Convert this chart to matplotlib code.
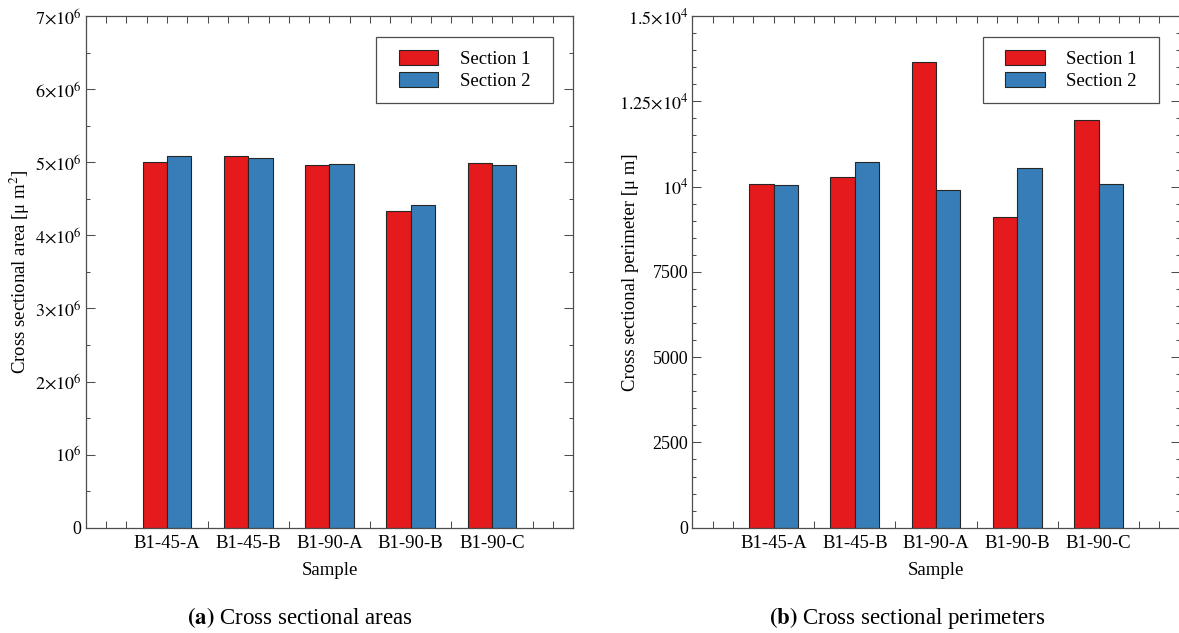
import matplotlib
matplotlib.use("Agg")
import matplotlib.pyplot as plt
import numpy as np
from matplotlib.patches import Rectangle
from matplotlib.ticker import MultipleLocator

# ---- data ----
samples = ["B1-45-A", "B1-45-B", "B1-90-A", "B1-90-B", "B1-90-C"]
series_names = ["Section 1", "Section 2"]

area_section1 = [5.005e6, 5.085e6, 4.955e6, 4.335e6, 4.990e6]
area_section2 = [5.078e6, 5.064e6, 4.973e6, 4.416e6, 4.963e6]

perim_section1 = [10080, 10290, 13660, 9120, 11940]
perim_section2 = [10050, 10730, 9910, 10540, 10080]

area_ticks = [0, 1e6, 2e6, 3e6, 4e6, 5e6, 6e6, 7e6]
area_tick_labels = ["0", r"$10^{6}$", r"$2{\times}10^{6}$", r"$3{\times}10^{6}$",
                    r"$4{\times}10^{6}$", r"$5{\times}10^{6}$", r"$6{\times}10^{6}$",
                    r"$7{\times}10^{6}$"]
perim_ticks = [0, 2500, 5000, 7500, 10000, 12500, 15000]
perim_tick_labels = ["0", "2500", "5000", "7500", r"$10^{4}$",
                     r"$1.25{\times}10^{4}$", r"$1.5{\times}10^{4}$"]

# ---- style ----
plt.rcParams["font.family"] = ["Liberation Serif", "DejaVu Serif"]
plt.rcParams["mathtext.fontset"] = "stix"

RED = "#E41A1C"
BLUE = "#377EB8"
EDGE = "#262626"
AXCOL = "#4d4d4d"
FS = 13.5

W, H = 1179, 633
fig = plt.figure(figsize=(W / 100, H / 100), dpi=100)
ax_top, ax_bot = 16.0, 527.7
ax_h = (ax_bot - ax_top) / H
ax_w = 487.5 / W
ax1 = fig.add_axes([85.7 / W, 1 - ax_bot / H, ax_w, ax_h])
ax2 = fig.add_axes([692.3 / W, 1 - ax_bot / H, ax_w, ax_h])


def draw_panel(ax, s1, s2, yticks, ylabels, yminor, ylabel):
    x = np.arange(1, len(samples) + 1)
    w = 0.3
    ax.bar(x - w / 2, s1, w, color=RED, edgecolor=EDGE, linewidth=0.8,
           label=series_names[0])
    ax.bar(x + w / 2, s2, w, color=BLUE, edgecolor=EDGE, linewidth=0.8,
           label=series_names[1])
    ax.set_xlim(0, len(samples) + 1)
    ax.set_ylim(yticks[0], yticks[-1])
    ax.set_xticks(x)
    ax.set_xticklabels(samples, fontsize=FS)
    ax.xaxis.set_minor_locator(MultipleLocator(0.25))
    ax.set_yticks(yticks)
    ax.set_yticklabels(ylabels, fontsize=13)
    ax.yaxis.set_minor_locator(MultipleLocator(yminor))
    ax.set_axisbelow(True)
    ax.tick_params(which="both", direction="in", top=True, right=True,
                   color=AXCOL, width=0.75)
    ax.tick_params(axis="y", which="major", length=6.2, pad=3)
    ax.tick_params(axis="y", which="minor", length=3.1)
    ax.tick_params(axis="x", which="both", length=5, pad=5)
    for sp in ax.spines.values():
        sp.set_color(AXCOL)
        sp.set_linewidth(0.9)
    ax.set_xlabel("Sample", fontsize=FS)
    ax.set_ylabel(ylabel, fontsize=FS)
    ax.xaxis.set_label_coords(0.5, -0.068)
    ax.yaxis.set_label_coords(-0.11, 0.5)

    # legend with a separately drawn square frame
    fx0, fy0, fx1, fy1 = 0.596, 0.830, 0.958, 0.958
    ax.add_patch(Rectangle((fx0, fy0), fx1 - fx0, fy1 - fy0,
                           transform=ax.transAxes, fill=False,
                           edgecolor=AXCOL, linewidth=0.9, zorder=5))
    ax.legend(loc="center", bbox_to_anchor=((fx0 + fx1) / 2, (fy0 + fy1) / 2),
              frameon=False, fontsize=FS, handlelength=2.1, handleheight=0.8,
              handletextpad=1.15, labelspacing=0.22, borderpad=0.3)


draw_panel(ax1, area_section1, area_section2, area_ticks, area_tick_labels,
           0.5e6, r"Cross sectional area [μ m$^{2}$]")
draw_panel(ax2, perim_section1, perim_section2, perim_ticks, perim_tick_labels,
           500, r"Cross sectional perimeter [μ m]")

fig.text(299.5 / W, 1 - 618 / H, r"$\mathbf{(a)}$ Cross sectional areas",
         ha="center", va="center", fontsize=16.5)
fig.text(907 / W, 1 - 618 / H, r"$\mathbf{(b)}$ Cross sectional perimeters",
         ha="center", va="center", fontsize=16.5)

fig.savefig("out.png", dpi=100)
